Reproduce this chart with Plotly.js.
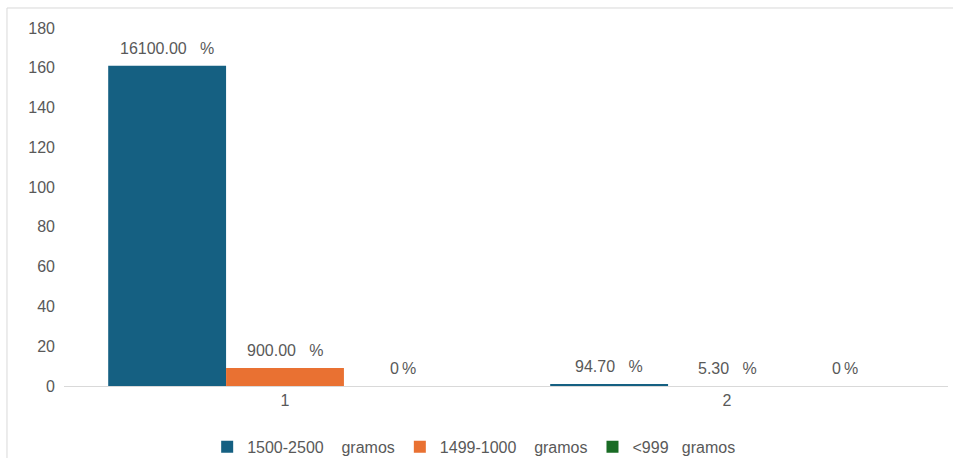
<!DOCTYPE html>
<html>
<head>
<meta charset="utf-8">
<script src="https://cdn.plot.ly/plotly-3.0.1.min.js"></script>
<style>
  html, body { margin: 0; padding: 0; background: #ffffff; }
  #chart { width: 953px; height: 458px; }
</style>
</head>
<body>
<div id="chart"></div>
<script>
// Birth-weight groups per category
const categories = [1, 2];
const seriesNames = [
  '1500-2500\u00a0\u00a0\u00a0\u00a0gramos',
  '1499-1000\u00a0\u00a0\u00a0\u00a0gramos',
  '<999\u00a0\u00a0\u00a0gramos'
];
const values1500to2500 = [161, 0.947];
const values1000to1499 = [9, 0.053];
const valuesUnder999 = [0, 0];
const seriesColors = ['#156082', '#E97132', '#196B24'];

const allValues = [values1500to2500, values1000to1499, valuesUnder999];
const BARGAP = 0.2;
const TEXT = '#595959';
const FONT = 'Liberation Sans, Arial, sans-serif';
const FS = 16;

// Percent label as shown above each bar
function pctLabel(v) {
  if (v === 0) return '0\u2009%';
  return (v * 100).toFixed(2) + '\u00a0\u00a0\u00a0%';
}

const traces = allValues.map((vals, i) => ({
  type: 'bar',
  name: seriesNames[i],
  x: categories,
  y: vals,
  marker: { color: seriesColors[i] },
  hoverinfo: 'skip'
}));

// Value labels sit over the centre of each grouped bar
const nSeries = allValues.length;
const barWidth = (1 - BARGAP) / nSeries;
const annotations = [];
allValues.forEach((vals, i) => {
  vals.forEach((v, j) => {
    annotations.push({
      x: categories[j] + (i - (nSeries - 1) / 2) * barWidth,
      y: v,
      xref: 'x', yref: 'y',
      text: pctLabel(v),
      showarrow: false,
      yanchor: 'bottom',
      yshift: 7,
      font: { family: FONT, size: FS, color: TEXT }
    });
  });
});

const layout = {
  width: 953,
  height: 458,
  margin: { l: 64, r: 5, t: 28, b: 72, autoexpand: false },
  paper_bgcolor: '#ffffff',
  plot_bgcolor: '#ffffff',
  font: { family: FONT, size: FS, color: TEXT },
  barmode: 'group',
  bargap: BARGAP,
  bargroupgap: 0,
  showlegend: true,
  legend: {
    orientation: 'h',
    x: 0.464, xanchor: 'center',
    y: -0.17, yanchor: 'middle',
    font: { family: FONT, size: FS, color: TEXT },
    itemwidth: 30,
    traceorder: 'normal'
  },
  xaxis: {
    type: 'linear',
    range: [0.5, 2.5],
    tickvals: categories,
    ticktext: categories.map(String),
    showgrid: false,
    zeroline: false,
    showline: true,
    linecolor: '#d9d9d9',
    linewidth: 1,
    ticks: '',
    ticklabelstandoff: 0,
    tickfont: { family: FONT, size: FS, color: TEXT },
    fixedrange: true
  },
  yaxis: {
    range: [0, 180],
    dtick: 20,
    tick0: 0,
    showgrid: false,
    zeroline: false,
    showline: false,
    ticks: '',
    ticklabelstandoff: 8,
    tickfont: { family: FONT, size: FS, color: TEXT },
    fixedrange: true
  },
  annotations: annotations,
  shapes: [{
    type: 'rect',
    xref: 'paper', yref: 'paper',
    x0: -0.0645, x1: 1.2,
    y0: -0.6, y1: 1.0559,
    line: { color: '#d9d9d9', width: 1 },
    fillcolor: 'rgba(0,0,0,0)',
    layer: 'below'
  }]
};

Plotly.newPlot('chart', traces, layout, { displayModeBar: false, staticPlot: true });
</script>
</body>
</html>
